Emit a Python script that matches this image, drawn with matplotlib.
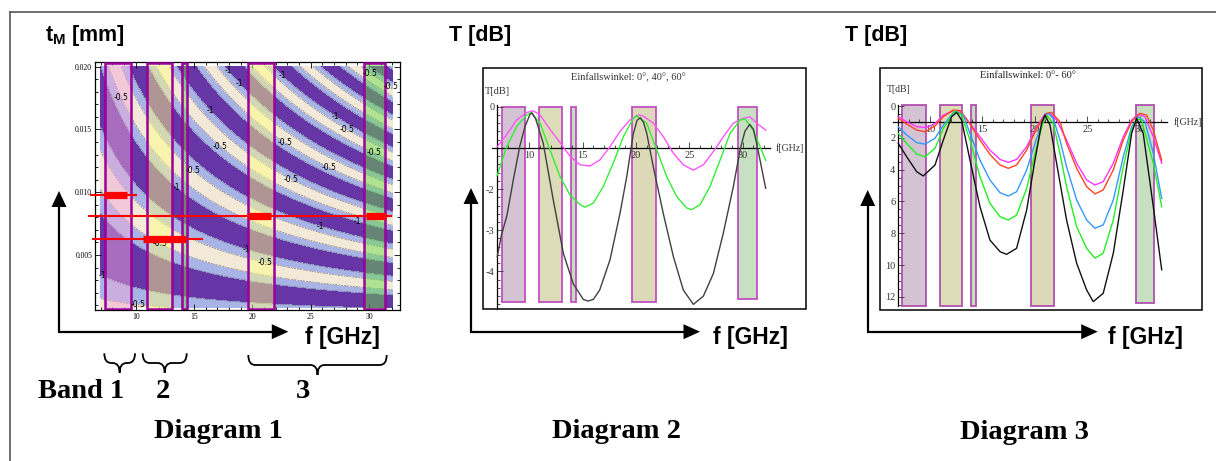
import numpy as np
import matplotlib
matplotlib.use('Agg')
import matplotlib.pyplot as plt
from matplotlib.patches import Rectangle, Polygon, PathPatch
from matplotlib.path import Path
from matplotlib.ticker import MultipleLocator, FixedLocator, FuncFormatter

plt.rcParams['mathtext.fontset'] = 'custom'
plt.rcParams['mathtext.bf'] = 'Liberation Sans:bold'
plt.rcParams['mathtext.rm'] = 'Liberation Sans'

# ------------------------------------------------------------------ data
# frequency bands (GHz) shown as shaded columns in all three diagrams
band_lo = [7.4, 10.95, 13.95, 19.65, 29.6]
band_hi = [9.6, 13.1, 14.4, 21.85, 31.35]
band_col_d1 = ['#f0a8d8', '#ffff80', '#66dd44', '#ffff80', '#66dd44']
band_col_d23 = ['#d3c3d3', '#dcdcb8', '#c6dcc0', '#dcd8b8', '#c8e0c2']

# Diagram 1: transmission contour over f * t_M (one period of the profile)
ft_period = 0.0822
profile_phase = [0.0, 0.07, 0.13, 0.17, 0.23, 0.29, 0.38, 0.5, 0.62, 0.71, 0.77, 0.83, 0.87, 0.93, 1.0]
profile_T = [0.0, -0.3, -0.5, -0.63, -0.82, -1.0, -1.3, -1.45, -1.3, -1.0, -0.82, -0.63, -0.5, -0.3, 0.0]
contour_levels = [-2.0, -1.0, -0.5, 0.1]
contour_colors = ['#6636a6', '#a9b4e6', '#f3e9d8']

# optimum thickness lines (t_M) and optimal ranges (thick red bars)
red_t = [0.0098, 0.0081, 0.0063]
red_line_f0 = [6.1, 5.9, 6.25]
red_line_f1 = [10.15, 32.0, 15.75]
red_bar_t = [0.0098, 0.0081, 0.0081, 0.0063]
red_bar_f0 = [7.3, 19.6, 29.7, 10.65]
red_bar_f1 = [9.25, 21.6, 31.45, 14.3]

# Diagram 2: T [dB] for incidence angles 0, 40, 60 deg
d2_black_f = [7.0, 7.4, 7.9, 8.5, 9.1, 9.6, 10.06, 10.25, 10.6, 11.3, 12.25, 13.19, 14.12, 15.06, 15.5, 16.0,
              16.6, 17.56, 18.5, 19.13, 19.75, 20.1, 20.4, 20.7, 21.0, 21.62, 22.56, 23.5, 24.43, 25.37, 26.31,
              27.25, 28.18, 29.12, 29.75, 30.2, 30.65, 31.0, 31.31, 31.7, 32.15]
d2_black_T = [-3.64, -3.1, -2.65, -1.78, -0.97, -0.48, -0.19, -0.15, -0.3, -0.88, -2.27, -3.56, -4.3, -4.68, -4.72,
              -4.68, -4.45, -3.72, -2.59, -1.7, -0.65, -0.33, -0.27, -0.38, -0.64, -1.46, -2.6, -3.64, -4.45, -4.8,
              -4.6, -4.05, -3.07, -1.94, -1.05, -0.6, -0.43, -0.55, -0.9, -1.4, -1.98]
d2_magenta_f = [7.0, 7.88, 8.82, 9.76, 10.37, 11.0, 11.94, 12.88, 13.81, 14.75, 15.69, 16.63, 17.56, 18.5, 19.44,
                20.22, 20.68, 21.62, 22.56, 23.5, 24.43, 25.37, 26.31, 27.25, 28.18, 29.12, 30.06, 30.68, 31.31, 32.15]
d2_magenta_T = [-0.97, -0.68, -0.32, -0.14, -0.1, -0.2, -0.55, -0.87, -1.2, -1.41, -1.44, -1.29, -0.97, -0.6, -0.32,
                -0.2, -0.23, -0.4, -0.73, -1.13, -1.41, -1.54, -1.41, -1.09, -0.73, -0.4, -0.28, -0.25, -0.4, -0.57]
d2_green_f = [7.0, 7.88, 8.82, 9.76, 10.16, 11.0, 11.94, 12.88, 13.81, 14.75, 15.22, 16.0, 16.93, 17.87, 18.81,
              19.75, 20.06, 21.0, 21.94, 22.88, 23.81, 24.75, 25.22, 26.0, 26.93, 27.87, 28.81, 29.75, 30.22, 30.99, 32.15]
d2_green_T = [-1.66, -0.97, -0.48, -0.2, -0.14, -0.4, -1.05, -1.7, -2.14, -2.38, -2.44, -2.34, -1.94, -1.37, -0.73,
              -0.28, -0.22, -0.4, -1.05, -1.7, -2.18, -2.46, -2.5, -2.38, -1.94, -1.3, -0.65, -0.32, -0.3, -0.57, -1.3]

# Diagram 3: T [dB] (loss, positive downwards) for incidence angles 0..60 deg
d3_magenta_f = [7.0, 7.8, 8.75, 9.7, 10.5, 11.29, 12.24, 13.03, 13.83, 14.78, 15.73, 16.69, 17.48, 18.27, 19.23,
                20.18, 20.97, 21.45, 22.08, 23.03, 23.99, 24.94, 25.73, 26.52, 27.48, 28.43, 29.23, 29.86, 30.49,
                31.29, 32.09]
d3_magenta_T = [0.67, 0.99, 1.3, 1.35, 1.1, 0.57, 0.3, 0.42, 1.1, 1.93, 2.77, 3.36, 3.54, 3.36, 2.56, 1.3, 0.5,
                0.46, 0.88, 2.14, 3.6, 4.65, 4.97, 4.76, 3.6, 1.93, 0.88, 0.52, 0.67, 1.93, 3.6]
d3_red_f = [7.0, 7.8, 8.75, 9.54, 10.5, 11.29, 12.24, 12.88, 13.83, 14.78, 15.73, 16.69, 17.48, 18.27, 19.23,
            20.18, 21.13, 21.6, 22.4, 23.03, 23.99, 24.94, 25.73, 26.52, 27.48, 28.43, 29.23, 30.02, 30.65, 31.29, 32.09]
d3_red_T = [0.78, 1.13, 1.51, 1.62, 1.26, 0.67, 0.25, 0.29, 1.13, 2.14, 3.04, 3.71, 3.92, 3.71, 2.77, 1.41, 0.46,
            0.4, 0.99, 2.35, 3.92, 5.07, 5.53, 5.28, 4.02, 2.14, 0.99, 0.46, 0.57, 1.51, 3.4]
d3_blue_f = [7.0, 7.8, 8.75, 9.54, 10.5, 11.29, 12.24, 12.56, 13.19, 13.83, 14.78, 15.73, 16.69, 17.48, 18.27,
             19.23, 20.18, 20.97, 21.29, 21.76, 22.4, 23.03, 23.99, 24.94, 25.73, 26.52, 27.48, 28.43, 29.23, 29.86,
             30.49, 31.29, 32.09]
d3_blue_T = [1.3, 1.82, 2.3, 2.4, 2.03, 1.2, 0.42, 0.36, 0.57, 1.72, 3.4, 4.65, 5.45, 5.66, 5.39, 4.02, 2.03, 0.67,
             0.46, 0.78, 2.14, 3.82, 5.91, 7.17, 7.69, 7.48, 5.91, 3.19, 1.3, 0.67, 0.99, 2.98, 5.81]
d3_green_f = [7.0, 7.8, 8.75, 9.54, 10.5, 11.29, 12.24, 12.4, 13.03, 13.83, 14.78, 15.73, 16.69, 17.48, 18.27,
              19.23, 20.18, 20.81, 21.13, 21.76, 22.4, 23.03, 23.99, 24.94, 25.73, 26.52, 27.48, 28.43, 29.23, 29.7,
              30.17, 31.29, 32.09]
d3_green_T = [1.72, 2.35, 3.02, 3.19, 2.66, 1.41, 0.46, 0.31, 0.57, 2.14, 4.44, 6.12, 6.96, 7.17, 6.86, 5.18, 2.56,
              0.99, 0.57, 1.1, 2.98, 5.07, 7.59, 8.95, 9.57, 9.26, 7.17, 3.82, 1.51, 0.82, 0.88, 3.6, 6.33]
d3_black_f = [7.0, 7.8, 8.75, 9.38, 10.5, 11.29, 12.08, 12.56, 13.03, 13.83, 14.78, 15.73, 16.69, 17.32, 18.27,
              19.23, 20.02, 20.65, 20.97, 21.45, 22.08, 23.03, 23.99, 24.94, 25.57, 26.52, 27.48, 28.43, 29.23, 29.7,
              30.33, 31.29, 32.09]
d3_black_T = [2.35, 3.19, 4.13, 4.4, 3.71, 2.14, 0.67, 0.4, 0.88, 3.4, 6.33, 8.43, 9.16, 9.33, 8.95, 6.54, 3.4,
              1.09, 0.57, 1.2, 3.6, 7.17, 9.89, 11.57, 12.3, 11.78, 9.26, 5.28, 1.72, 0.78, 1.72, 6.33, 10.3]

# ------------------------------------------------------------------ figure
W, H, DPI = 1216, 461, 100
fig = plt.figure(figsize=(W / DPI, H / DPI), dpi=DPI)
fig.patch.set_facecolor('white')


def px_axes(l, t, r, b):
    return fig.add_axes([l / W, 1 - b / H, (r - l) / W, (b - t) / H])


SERIF = 'Liberation Serif'
SANS = 'Liberation Sans'

# overlay axes in pixel coordinates
ax0 = fig.add_axes([0, 0, 1, 1])
ax0.set_xlim(0, W)
ax0.set_ylim(H, 0)
ax0.axis('off')
ax0.set_zorder(0)

# outer border (top and left)
ax0.plot([10, W], [12, 12], color='#555555', lw=1.2)
ax0.plot([10, 10], [12, H], color='#555555', lw=1.2)


def arrow_v(x, y0, ytip):
    ax0.plot([x, x], [y0, ytip + 14], color='black', lw=1.6, solid_capstyle='butt')
    ax0.add_patch(Polygon([(x - 7.5, ytip + 16), (x + 7.5, ytip + 16), (x, ytip)], closed=True,
                          color='black', lw=0))


def arrow_h(x0, y, xtip):
    ax0.plot([x0, xtip - 14], [y, y], color='black', lw=1.6, solid_capstyle='butt')
    ax0.add_patch(Polygon([(xtip - 16.5, y - 7.5), (xtip - 16.5, y + 7.5), (xtip, y)], closed=True,
                          color='black', lw=0))


def brace(x0, x1, ytop, ytip):
    xc = (x0 + x1) / 2
    ym = (ytop + ytip) / 2
    r = min(7, (x1 - x0) / 4)
    verts = [(x0, ytop), (x0, ym), (x0 + r, ym), (xc - r, ym), (xc, ym), (xc, ytip),
             (xc, ym), (xc + r, ym), (x1 - r, ym), (x1, ym), (x1, ytop)]
    codes = [Path.MOVETO, Path.CURVE3, Path.CURVE3, Path.LINETO, Path.CURVE3, Path.CURVE3,
             Path.CURVE3, Path.CURVE3, Path.LINETO, Path.CURVE3, Path.CURVE3]
    ax0.add_patch(PathPatch(Path(verts, codes), fill=False, lw=1.3, ec='black'))


# axes arrows
arrow_v(59, 331.7, 191)
arrow_h(58, 331.7, 288.3)
arrow_v(471, 331.7, 188)
arrow_h(470, 331.7, 700)
arrow_v(867.7, 331.7, 190)
arrow_h(866.7, 331.7, 1097.7)

# axis titles
ax0.text(45, 36, r'$\mathbf{t_M}$ [mm]', fontsize=15.5, fontweight='bold', family=SANS, va='center', ha='left')
ax0.text(449, 36, 'T [dB]', fontsize=15.5, fontweight='bold', family=SANS, va='center', ha='left')
ax0.text(845, 36, 'T [dB]', fontsize=15.5, fontweight='bold', family=SANS, va='center', ha='left')
for xl in (305, 712.7, 1108.3):
    ax0.text(xl, 337.5, 'f [GHz]', fontsize=16.5, fontweight='bold', family=SANS, va='center', ha='left')

# band braces and labels
brace(104.3, 135, 353.3, 372.7)
brace(142.7, 186.7, 353.3, 372.7)
brace(248.3, 386.7, 355, 375)
ax0.text(38.3, 391, 'Band 1', fontsize=20.5, fontweight='bold', family=SERIF, va='center', ha='left')
ax0.text(163.3, 391, '2', fontsize=20.5, fontweight='bold', family=SERIF, va='center', ha='center')
ax0.text(302.7, 391, '3', fontsize=20.5, fontweight='bold', family=SERIF, va='center', ha='center')
ax0.text(218.3, 431, 'Diagram 1', fontsize=20.5, fontweight='bold', family=SERIF, va='center', ha='center')
ax0.text(617, 431, 'Diagram 2', fontsize=20.5, fontweight='bold', family=SERIF, va='center', ha='center')
ax0.text(1024.8, 432, 'Diagram 3', fontsize=20.5, fontweight='bold', family=SERIF, va='center', ha='center')

# ------------------------------------------------------------------ Diagram 1
ax1 = px_axes(95, 62, 400, 310)
ax1.set_zorder(1)
ax1.set_xlim(6.51, 32.65)
ax1.set_ylim(0.00062, 0.02037)

fg = np.linspace(7, 32, 400)
tg = np.linspace(0.0008, 0.020, 400)
FF, TT = np.meshgrid(fg, tg)
phase = np.mod(FF * TT / ft_period, 1.0)
ZZ = np.interp(phase, profile_phase, profile_T)
ax1.contourf(FF, TT, ZZ, levels=contour_levels, colors=contour_colors, zorder=1)
cs = ax1.contour(FF, TT, ZZ, levels=[-1.0, -0.5], colors='#606070', linewidths=0.4, zorder=2)
label_pos = [(8.8, 0.0176), (18.1, 0.0198), (18.8, 0.0186), (16.5, 0.0166), (17.4, 0.0138), (15.1, 0.0120),
             (13.5, 0.0104), (22.8, 0.0195), (27.3, 0.0163), (28.0, 0.0148), (22.8, 0.0139), (26.7, 0.0122),
             (23.4, 0.0111), (25.8, 0.0072), (29.0, 0.0077), (19.45, 0.0052), (21.1, 0.0044), (11.9, 0.0056),
             (7.2, 0.0035), (10.2, 0.0012), (30.5, 0.0133), (30.1, 0.0195), (31.9, 0.0184)]
labels = ax1.clabel(cs, manual=label_pos, fontsize=5.5, inline=False, colors='black',
                    fmt=lambda v: f'{v:g}')
for lt in labels:
    lt.set_rotation(0)
    lt.set_family('DejaVu Sans')

for lo, hi, c in zip(band_lo, band_hi, band_col_d1):
    ax1.axvspan(lo, hi, ymin=0.004, ymax=0.997, facecolor=c, alpha=0.48, edgecolor='none', zorder=3)
    ax1.axvspan(lo, hi, ymin=0.004, ymax=0.997, facecolor='none', edgecolor='#990099', lw=1.8, zorder=3.5)

for t, f0, f1 in zip(red_t, red_line_f0, red_line_f1):
    ax1.plot([f0, f1], [t, t], color='#ff0000', lw=1.5, zorder=5, clip_on=False, solid_capstyle='butt')
for t, f0, f1 in zip(red_bar_t, red_bar_f0, red_bar_f1):
    ax1.plot([f0, f1], [t, t], color='#ff0000', lw=5.2, zorder=5, clip_on=False, solid_capstyle='butt')

ax1.xaxis.set_major_locator(FixedLocator([10, 15, 20, 25, 30]))
ax1.xaxis.set_minor_locator(FixedLocator(np.arange(7, 33, 1)))
ax1.yaxis.set_major_locator(FixedLocator([0.005, 0.010, 0.015, 0.020]))
ax1.yaxis.set_minor_locator(FixedLocator(np.arange(0.001, 0.0201, 0.001)))
ax1.yaxis.set_major_formatter(FuncFormatter(lambda v, p: f'{v:.3f}'))
ax1.tick_params(which='both', direction='in', top=True, right=True, width=0.6, colors='black',
                labelsize=5.5, pad=2)
ax1.tick_params(which='major', length=4)
ax1.tick_params(which='minor', length=2)
for lab in ax1.get_xticklabels() + ax1.get_yticklabels():
    lab.set_family(SERIF)
for s in ax1.spines.values():
    s.set_linewidth(0.9)


# ------------------------------------------------------------------ Diagrams 2 and 3
def mathematica_axes(ax, yaxis_bounds, xorigin_y):
    ax.spines['left'].set_position(('data', 7))
    ax.spines['left'].set_bounds(*yaxis_bounds)
    ax.spines['bottom'].set_position(('data', xorigin_y))
    ax.spines['bottom'].set_bounds(6.5, 32.6)
    ax.spines['top'].set_visible(False)
    ax.spines['right'].set_visible(False)
    for s in ('left', 'bottom'):
        ax.spines[s].set_linewidth(0.9)
    ax.add_patch(Rectangle((0, 0), 1, 1, transform=ax.transAxes, fill=False, lw=1.1, ec='black',
                           clip_on=False, zorder=10))
    ax.xaxis.set_major_locator(FixedLocator([10, 15, 20, 25, 30]))
    ax.xaxis.set_minor_locator(FixedLocator(np.arange(7, 33, 1)))
    ax.tick_params(which='both', direction='in', width=0.6, colors='#333333', labelsize=7.5, pad=2)
    ax.tick_params(which='major', length=4)
    ax.tick_params(which='minor', length=2)
    for lab in ax.get_xticklabels() + ax.get_yticklabels():
        lab.set_family(SERIF)


ax2 = px_axes(483.3, 67.7, 805.7, 309.3)
ax2.set_zorder(1)
ax2.set_xlim(5.69, 35.9)
ax2.set_ylim(-4.92, 0.947)
ax2.yaxis.set_major_locator(FixedLocator([0, -1, -2, -3, -4]))
ax2.yaxis.set_minor_locator(FixedLocator(np.arange(-4.8, 0.01, 0.2)))
ax2.yaxis.set_major_formatter(FuncFormatter(lambda v, p: '' if abs(v + 1) < 1e-6 else f'{v:g}'))
mathematica_axes(ax2, (-4.92, 0.04), -1)
for lo, hi, c, bot in zip(band_lo, band_hi, band_col_d23, [-4.75, -4.75, -4.75, -4.75, -4.68]):
    ax2.add_patch(Rectangle((lo, bot), hi - lo, 0 - bot, facecolor=c, edgecolor='#c050c0', lw=1.3, zorder=1))
ax2.plot(d2_magenta_f, d2_magenta_T, color='#ff55ff', lw=1.0, zorder=3)
ax2.plot(d2_green_f, d2_green_T, color='#33ee33', lw=1.0, zorder=3)
ax2.plot(d2_black_f, d2_black_T, color='#404040', lw=1.0, zorder=3)
ax2.text(0.449, 0.96, 'Einfallswinkel: 0°, 40°, 60°', transform=ax2.transAxes, ha='center', va='center',
         fontsize=7.5, family=SERIF, color='#333333')
ax2.text(7, 0.36, 'T[dB]', ha='center', va='center', fontsize=7.5, family=SERIF, color='#333333')
ax2.text(33.05, -1, 'f[GHz]', ha='left', va='center', fontsize=7, family=SERIF, color='#333333')

ax3 = px_axes(880, 67.7, 1201.7, 310)
ax3.set_zorder(1)
ax3.set_xlim(5.26, 35.9)
ax3.set_ylim(12.83, -2.41)
ax3.yaxis.set_major_locator(FixedLocator([0, 2, 4, 6, 8, 10, 12]))
ax3.yaxis.set_minor_locator(FixedLocator(np.arange(0.5, 12.6, 0.5)))
ax3.yaxis.set_major_formatter(FuncFormatter(lambda v, p: f'{v:g}'))
mathematica_axes(ax3, (-0.05, 12.6), 1)
for lo, hi, c, bot in zip(band_lo, band_hi, band_col_d23, [12.6, 12.6, 12.6, 12.6, 12.4]):
    ax3.add_patch(Rectangle((lo, -0.05), hi - lo, bot + 0.05, facecolor=c, edgecolor='#b050b0', lw=1.3, zorder=1))
ax3.plot(d3_magenta_f, d3_magenta_T, color='#ff33ff', lw=1.0, zorder=3)
ax3.plot(d3_red_f, d3_red_T, color='#ff4422', lw=1.0, zorder=3)
ax3.plot(d3_blue_f, d3_blue_T, color='#3399ff', lw=1.0, zorder=3)
ax3.plot(d3_green_f, d3_green_T, color='#22ee22', lw=1.0, zorder=3)
ax3.plot(d3_black_f, d3_black_T, color='#111111', lw=1.0, zorder=3)
ax3.text(0.461, 0.967, 'Einfallswinkel: 0°- 60°', transform=ax3.transAxes, ha='center', va='center',
         fontsize=7.5, family=SERIF, color='#222222')
ax3.text(7, -1.07, 'T[dB]', ha='center', va='center', fontsize=7, family=SERIF, color='#333333')
ax3.text(33.2, 1, 'f[GHz]', ha='left', va='center', fontsize=7, family=SERIF, color='#333333')

fig.savefig('out.png', dpi=DPI, facecolor='white')
